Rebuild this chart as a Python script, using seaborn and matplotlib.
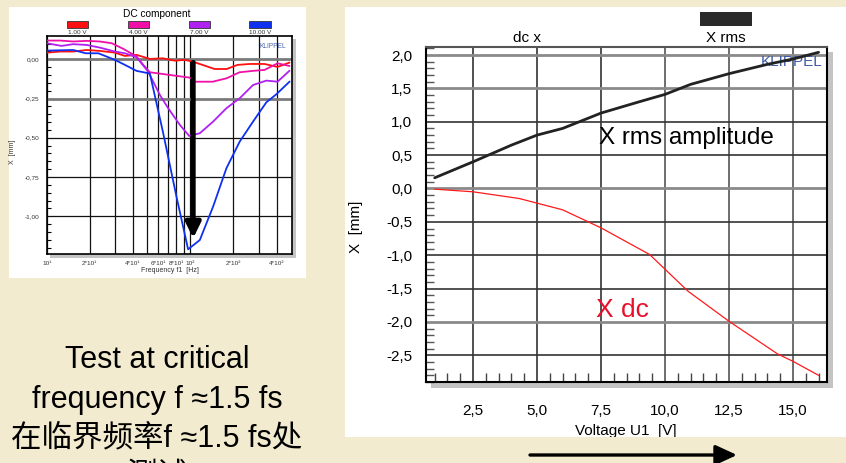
import numpy as np
import pandas as pd
import matplotlib
matplotlib.use("Agg")
import matplotlib.pyplot as plt
from matplotlib.patches import Rectangle, FancyArrowPatch
from matplotlib.ticker import MultipleLocator, NullLocator
import seaborn as sns

sns.set_theme(style="white", rc={"text.color": "black", "axes.labelcolor": "black",
                                 "xtick.color": "black", "ytick.color": "black"})
plt.rcParams["font.family"] = ["Liberation Sans", "Noto Sans CJK SC", "DejaVu Sans"]

# ---------------- DC component vs. frequency (four drive levels) ----------------
dc_levels = ["1.00 V", "4.00 V", "7.00 V", "10.00 V"]
dc_colors = ["#ff1010", "#f010a8", "#b020f0", "#1030f0"]

freq_1v = [10, 12.4, 15.3, 19, 23.5, 29.9, 35.1, 42.3, 52.4, 64.5, 78.1, 91.7, 104,
           122, 148, 180, 214, 260, 330, 407, 493]
dc_1v = [0.042, 0.049, 0.049, 0.059, 0.053, 0.042, 0.021, 0.028, 0.002, 0.006, -0.009,
         -0.004, -0.015, -0.036, -0.062, -0.062, -0.036, -0.030, -0.030, -0.049, -0.021]

freq_4v = [10, 12.4, 15.3, 19, 23.5, 28.4, 34.2, 42.3, 47, 52.4, 72.1, 99.3, 107.6,
           143.6, 180, 221, 275, 330, 407, 493]
dc_4v = [0.119, 0.119, 0.113, 0.117, 0.113, 0.102, 0.066, 0.018, -0.035, -0.083, -0.100,
         -0.117, -0.143, -0.143, -0.121, -0.083, -0.074, -0.068, -0.026, -0.043]

freq_7v = [10, 12.7, 15.3, 19, 23.5, 29.9, 35.1, 42.3, 51, 61.5, 70.3, 84.8, 98.4, 116.8,
           144.6, 179, 221.7, 274.5, 340, 407, 493]
dc_7v = [0.102, 0.085, 0.096, 0.091, 0.074, 0.049, 0.038, 0.013, -0.079, -0.227, -0.312,
         -0.418, -0.488, -0.471, -0.397, -0.312, -0.248, -0.164, -0.136, -0.143, -0.073]

freq_10v = [10, 15.3, 18.7, 22.9, 29.9, 35.1, 42.3, 52.4, 64.9, 80.3, 96.8, 116.8, 144.6,
            179, 221.7, 274.5, 340, 399, 494]
dc_10v = [0.055, 0.059, 0.038, 0.038, -0.004, -0.036, -0.074, -0.091, -0.471, -0.875,
          -1.21, -1.151, -0.938, -0.694, -0.524, -0.397, -0.274, -0.223, -0.142]

freq_ticks = [10, 20, 30, 40, 50, 60, 70, 80, 90, 100, 200, 300, 400]
freq_tick_labels = ["10\u00b9", "2*10\u00b9", "", "4*10\u00b9", "", "6*10\u00b9", "",
                    "8*10\u00b9", "", "10\u00b2", "2*10\u00b2", "", "4*10\u00b2"]
dc_yticks = [0.0, -0.25, -0.5, -0.75, -1.0]
dc_ytick_labels = ["0,00", "-0,25", "-0,50", "-0,75", "-1,00"]
critical_freq = 105
arrow_span = (-0.02, -1.14)

# ---------------- X rms and X dc vs. voltage ----------------
volt_rms = [1.0, 2.5, 4.0, 5.0, 6.0, 7.5, 9.0, 10.0, 11.0, 12.5, 14.0, 15.0, 16.0]
x_rms = [0.16, 0.40, 0.65, 0.80, 0.90, 1.13, 1.30, 1.41, 1.56, 1.72, 1.86, 1.94, 2.04]
volt_dc = [1.0, 2.5, 4.3, 6.0, 7.5, 9.4, 10.0, 10.9, 12.5, 14.4, 15.0, 16.0]
x_dc = [-0.01, -0.05, -0.15, -0.32, -0.59, -0.99, -1.21, -1.54, -1.99, -2.48, -2.59, -2.80]
volt_ticks = [2.5, 5.0, 7.5, 10.0, 12.5, 15.0]
volt_tick_labels = ["2,5", "5,0", "7,5", "10,0", "12,5", "15,0"]
x_ticks = [2.0, 1.5, 1.0, 0.5, 0.0, -0.5, -1.0, -1.5, -2.0, -2.5]
x_tick_labels = ["2,0", "1,5", "1,0", "0,5", "0,0", "-0,5", "-1,0", "-1,5", "-2,0", "-2,5"]

CREAM = "#f3ebcf"
W, H = 846, 463
fig = plt.figure(figsize=(W / 100, H / 100), dpi=100, facecolor=CREAM)


def fx(px):
    return px / W


def fy(py):
    return 1 - py / H


def panel(x0, y0, x1, y1, **kw):
    r = Rectangle((fx(x0), fy(y1)), fx(x1) - fx(x0), fy(y0) - fy(y1),
                  transform=fig.transFigure, **kw)
    fig.add_artist(r)
    return r


# white slide panels and drop shadows
panel(9, 7, 306, 278, fc="white", ec="none", zorder=-3)
big_panel = panel(345, 7, 846, 437, fc="white", ec="none", zorder=-3)
panel(50, 39, 295.5, 257.5, fc="#c4c4c4", ec="none", zorder=-2)
panel(431, 52, 833, 388, fc="#c4c4c4", ec="none", zorder=-2)

# ================= left: DC component =================
ax1 = fig.add_axes([fx(46.7), fy(254), fx(292) - fx(46.7), fy(36) - fy(254)])
ax1.set_facecolor("white")
df_dc = pd.concat([
    pd.DataFrame({"f": f, "x": v, "level": lab})
    for f, v, lab in zip([freq_1v, freq_4v, freq_7v, freq_10v],
                         [dc_1v, dc_4v, dc_7v, dc_10v], dc_levels)
])
sns.lineplot(data=df_dc, x="f", y="x", hue="level", hue_order=dc_levels,
             palette=dc_colors, estimator=None, sort=False, lw=1.3, legend=False,
             ax=ax1, zorder=3)
ax1.set_xscale("log")
ax1.set_xlim(10, 513)
ax1.set_ylim(-1.24, 0.148)
ax1.set_xticks(freq_ticks)
ax1.set_xticklabels(freq_tick_labels)
ax1.xaxis.set_minor_locator(NullLocator())
ax1.set_yticks(dc_yticks)
ax1.set_yticklabels(dc_ytick_labels)
ax1.yaxis.set_minor_locator(MultipleLocator(0.05))
ax1.tick_params(axis="x", which="major", length=0, pad=5, labelsize=4.6, labelcolor="#333")
ax1.tick_params(axis="y", which="major", direction="inout", length=5, width=1.5,
                pad=3, labelsize=4.6, labelcolor="#333")
ax1.tick_params(axis="y", which="minor", direction="in", length=3, width=0.8, left=True)
ax1.grid(True, which="major", color="#111", lw=0.9)
for i, gl in enumerate(ax1.get_ygridlines()):
    if i < 2:
        gl.set_color("#7a7a7a")
        gl.set_linewidth(2.0)
for s in ax1.spines.values():
    s.set_color("black")
    s.set_linewidth(1.2)
ax1.set_xlabel("Frequency f1  [Hz]", fontsize=5, color="#333")
ax1.xaxis.set_label_coords(0.503, -0.06)
ax1.set_ylabel("X  [mm]", fontsize=5, color="#333")
ax1.yaxis.set_label_coords(-0.125, 0.468)
ax1.annotate("", xy=(critical_freq, arrow_span[1]), xytext=(critical_freq, arrow_span[0]),
             arrowprops=dict(arrowstyle="-|>,head_width=0.22,head_length=0.45",
                             mutation_scale=20, lw=3.6, color="black",
                             shrinkA=0, shrinkB=0), zorder=5)

fig.text(fx(157), fy(14), "DC component", fontsize=7.3, ha="center", va="center")
swatch_x = [(67, 88), (128, 149), (189, 210), (249, 271)]
for (x0, x1), col, lab in zip(swatch_x, dc_colors, dc_levels):
    panel(x0, 21, x1, 27.5, fc=col, ec="#333", lw=0.6, zorder=2)
    fig.text(fx((x0 + x1) / 2), fy(32.5), lab, fontsize=4.6, ha="center", va="center",
             color="#333")
fig.text(fx(273), fy(47), "KLIPPEL", fontsize=4.8, ha="center", va="center",
         color="#4a62a8")

# ================= right: X rms and X dc vs. voltage =================
ax2 = fig.add_axes([fx(426), fy(382), fx(827) - fx(426), fy(47) - fy(382)])
ax2.set_facecolor("white")
sns.lineplot(x=volt_rms, y=x_rms, color="#222222", lw=2.0, ax=ax2, zorder=4)
sns.lineplot(x=volt_dc, y=x_dc, color="#ff1a1a", lw=0.9, ax=ax2, zorder=4)
ax2.set_xlim(0.66, 16.33)
ax2.set_ylim(-2.9, 2.12)
ax2.set_xticks(volt_ticks)
ax2.set_xticklabels(volt_tick_labels)
ax2.set_yticks(x_ticks)
ax2.set_yticklabels(x_tick_labels)
ax2.xaxis.set_minor_locator(MultipleLocator(0.5))
ax2.yaxis.set_minor_locator(MultipleLocator(0.1))
ax2.tick_params(axis="x", which="major", direction="out", length=11, width=1.3,
                color="#444", pad=5, labelsize=11)
ax2.tick_params(axis="x", which="minor", direction="in", length=6.5, width=1.0,
                color="#444", bottom=True)
ax2.tick_params(axis="y", which="major", direction="out", length=6, width=1.3,
                color="#444", pad=4, labelsize=11)
ax2.tick_params(axis="y", which="minor", direction="in", length=6, width=1.0,
                color="#555", left=True)
ax2.grid(True, which="major", color="#333", lw=1.2)
grey_rows = {0, 1, 4, 8}
for i, gl in enumerate(ax2.get_ygridlines()):
    if i in grey_rows:
        gl.set_color("#8a8a8a")
        gl.set_linewidth(2.0)
for i, gl in enumerate(ax2.get_xgridlines()):
    gl.set_color("#555" if i > 2 else "#333")
for s in ax2.spines.values():
    s.set_color("black")
    s.set_linewidth(1.5)
ax2.spines["top"].set_color("#555")
ax2.set_ylabel("X  [mm]", fontsize=11)
ax2.yaxis.set_label_coords(-0.158, 0.463)
xl = ax2.set_xlabel("Voltage U1  [V]", fontsize=11)
ax2.xaxis.set_label_coords(0.499, -0.125)
xl.set_clip_path(big_panel)
xl.set_clip_on(True)
ax2.text(0.99, 0.955, "KLIPPEL", transform=ax2.transAxes, fontsize=11, ha="right",
         va="center", color="#3f5aa6", zorder=1)

fig.text(fx(527), fy(38), "dc x", fontsize=11, ha="center", va="center")
fig.text(fx(726), fy(38), "X rms", fontsize=11, ha="center", va="center")
panel(700, 12, 752, 26, fc="#2a2a2a", ec="none", zorder=2)
fig.text(fx(599), fy(138), "X rms amplitude", fontsize=17.5, ha="left", va="center")
fig.text(fx(596), fy(310), "X dc", fontsize=19, ha="left", va="center", color="#e8102a")

# direction arrow under the voltage axis
fig.add_artist(FancyArrowPatch(posA=(fx(530), fy(455)), posB=(fx(737), fy(455)),
                               transform=fig.transFigure,
                               arrowstyle="-|>,head_width=0.3,head_length=0.65",
                               mutation_scale=20, lw=2.4, color="black",
                               shrinkA=0, shrinkB=0))

# caption
cjk = ["Liberation Sans", "Noto Sans CJK SC"]
fig.text(fx(157), fy(360), "Test at critical", fontsize=22, ha="center", va="center")
fig.text(fx(157), fy(400), "frequency f \u22481.5 fs", fontsize=22, ha="center", va="center")
fig.text(fx(157), fy(438), "在临界频率f \u22481.5 fs处", fontsize=22, ha="center",
         va="center", family=cjk)
fig.text(fx(157), fy(476), "测试", fontsize=22, ha="center", va="center", family=cjk)

fig.savefig("out.png", dpi=100, facecolor=CREAM)
